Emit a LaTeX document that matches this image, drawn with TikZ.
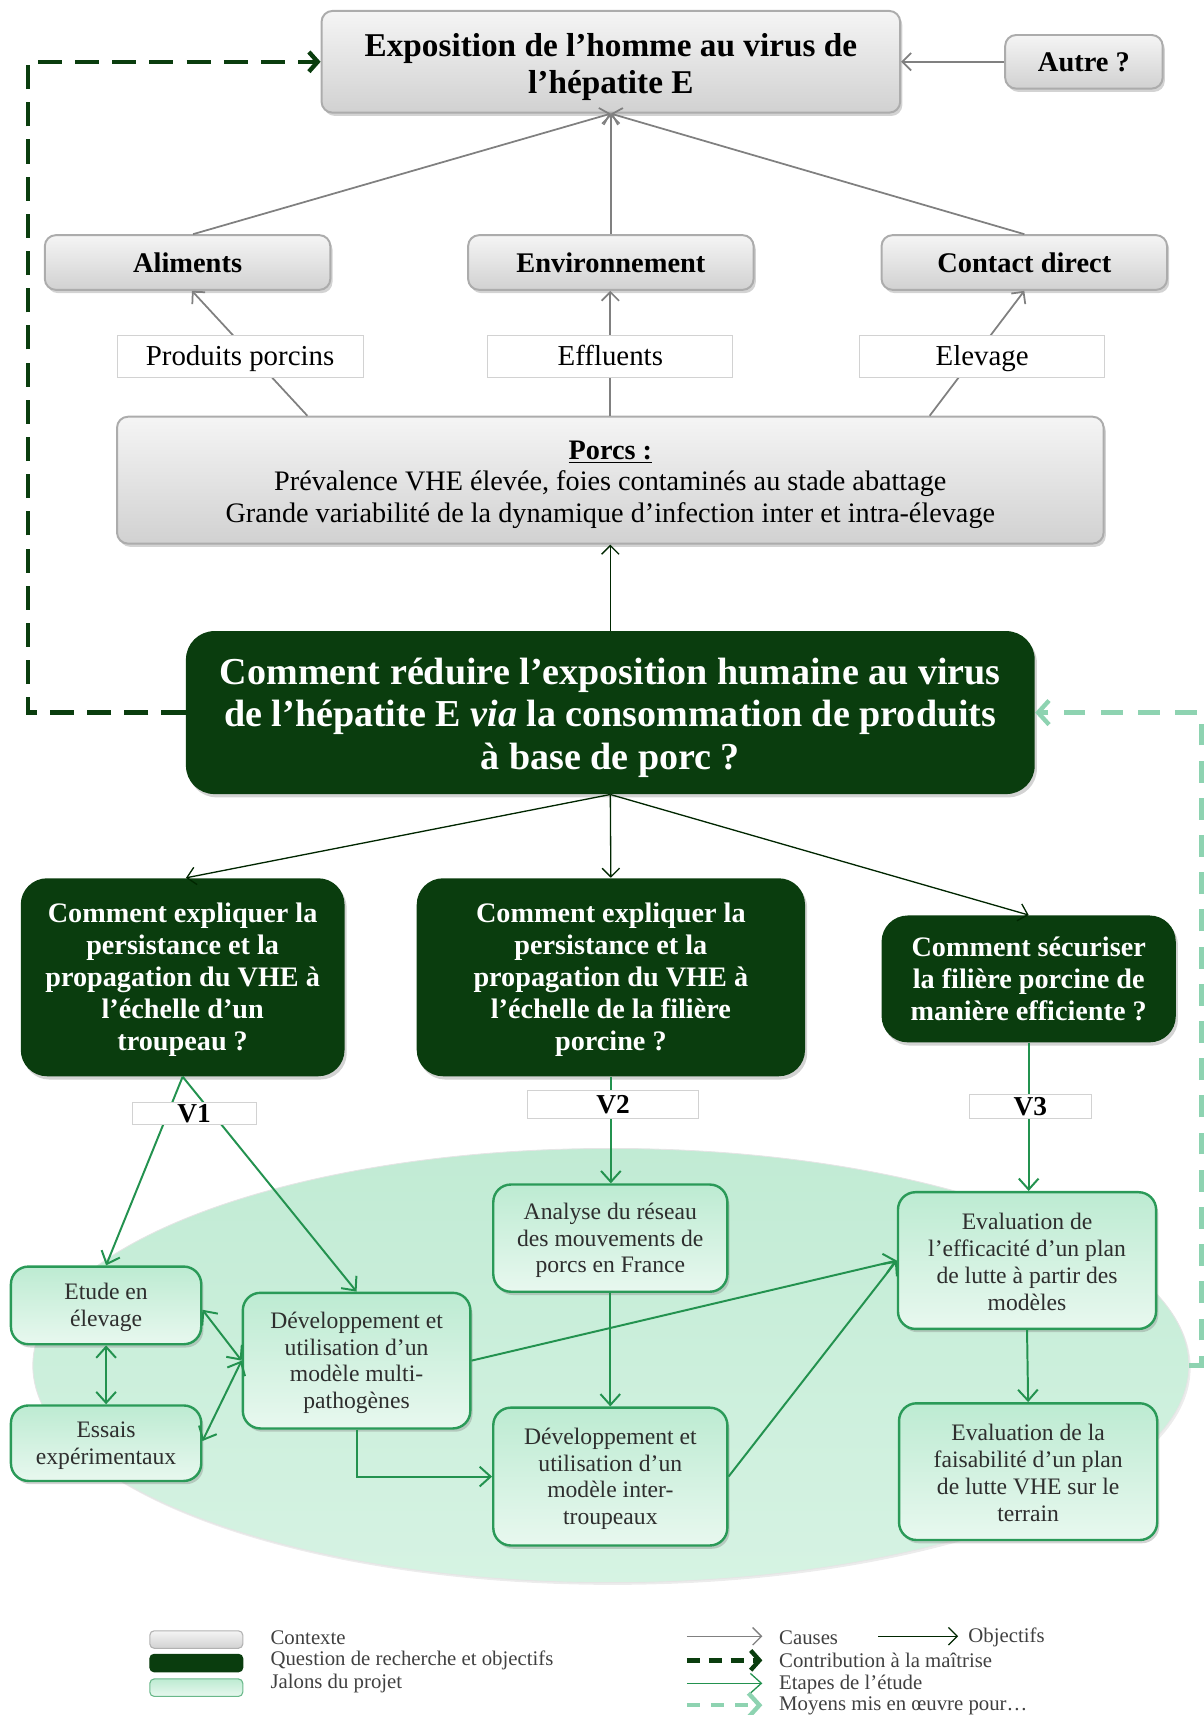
\documentclass[tikz,border=0pt]{standalone}
\usepackage{fontspec}
\setmainfont{Liberation Serif}
\usetikzlibrary{arrows.meta,shadows,shapes.geometric,calc}
\definecolor{dkgreen}{HTML}{0A3D0E}
\definecolor{lgborder}{HTML}{2A9A58}
\definecolor{lgtop}{HTML}{BDEBD2}
\definecolor{lgbot}{HTML}{E8F8EF}
\definecolor{ellcol}{HTML}{C1EBD4}
\definecolor{ellbot}{HTML}{D6F3E3}
\definecolor{lightdash}{HTML}{8ED3B1}
\definecolor{arrgreen}{HTML}{23924F}
\definecolor{grayline}{HTML}{808080}
\newcommand{\myfs}[2]{\fontsize{#1}{#2}\selectfont}
\newcommand{\lowtext}[3]{\raisebox{-#1}[\height][\depth]{\parbox{#2}{\centering #3}}}
\begin{document}
\begin{tikzpicture}[x=0.5pt,y=-0.5pt,
  shd/.style={drop shadow={shadow xshift=1pt,shadow yshift=-1.5pt,opacity=0.35}},
  ctx/.style={draw=gray!65, line width=0.9pt, rounded corners=5pt, top color=gray!8, bottom color=gray!36, shd, inner sep=0pt, align=center, text=black},
  lbl/.style={draw=gray!35, line width=0.4pt, fill=white, inner sep=0pt, align=center},
  quest/.style={fill=dkgreen, rounded corners=12pt, text=white, align=center, inner sep=0pt, shd},
  jalon/.style={draw=lgborder, line width=1.1pt, rounded corners=8pt, top color=lgtop, bottom color=lgbot, align=center, inner sep=0pt, text=black!82, shd, font=\myfs{10.8}{12.3}},
  cause/.style={draw=grayline, line width=0.8pt, -{Straight Barb[length=4pt,width=8pt]}},
  obj/.style={draw=black!85!green, line width=0.6pt, -{Straight Barb[length=4pt,width=8pt]}},
  etape/.style={draw=arrgreen, line width=0.9pt, -{Straight Barb[length=5pt,width=9pt]}},
  etapes2/.style={draw=arrgreen, line width=0.9pt, {Straight Barb[length=5pt,width=9pt]}-{Straight Barb[length=5pt,width=9pt]}},
  contrib/.style={draw=dkgreen, line width=2pt, dash pattern=on 11pt off 6pt, -{Straight Barb[length=4pt,width=9pt,line width=2pt]}},
  moyens/.style={draw=lightdash, line width=2pt, dash pattern=on 10pt off 7pt, -{Straight Barb[length=5pt,width=11pt,line width=2pt]}},
  swatch/.style={minimum width=42.5pt, minimum height=8pt, rounded corners=2pt, inner sep=0pt, draw=gray!60, line width=0.5pt},
  legtxt/.style={anchor=west, inner sep=0pt, text=black!75, font=\myfs{9.5}{10}}
]
\useasboundingbox (0,0) rectangle (1100,1568);

% ---------------- context ----------------
\node[ctx, minimum width=264.5pt, minimum height=46.5pt, font=\bfseries\myfs{15.2}{17}] (expo) at (558.5,56.5) {\lowtext{2.2pt}{250pt}{Exposition de l’homme au virus de\\l’hépatite E}};
\node[ctx, minimum width=72pt, minimum height=24.5pt, font=\bfseries\myfs{13}{15}] (autre) at (991,56.5) {Autre ?};
\node[ctx, minimum width=130.5pt, minimum height=25pt, font=\bfseries\myfs{13}{15}] (alim) at (171.5,240) {Aliments};
\node[ctx, minimum width=130.5pt, minimum height=25pt, font=\bfseries\myfs{13}{15}] (env) at (558.5,240) {Environnement};
\node[ctx, minimum width=130.5pt, minimum height=25pt, font=\bfseries\myfs{13}{15}] (cont) at (936.5,240) {Contact direct};
\node[ctx, minimum width=451pt, minimum height=58pt, font=\myfs{12.9}{14.5}] (porcs) at (558,439) {\lowtext{2pt}{440pt}{\textbf{\underline{Porcs :}}\\Prévalence VHE élevée, foies contaminés au stade abattage\\Grande variabilité de la dynamique d’infection inter et intra-élevage}};

\draw[cause] (autre.west) -- (expo.east);
\draw[cause] ([xshift=2.5pt]alim.north) -- (expo.south);
\draw[cause] (env.north) -- (expo.south);
\draw[cause] (cont.north) -- (expo.south);

\draw[cause] ($(porcs.north)+(-277,0)$) -- ($(alim.south)+(4,0)$);
\draw[cause] (porcs.north) -- (porcs.north |- env.south);
\draw[cause] ($(porcs.north)+(292,0)$) -- (cont.south);

\node[lbl, minimum width=112.5pt, minimum height=19pt, font=\myfs{13.2}{14}] (lab1) at (219.5,326) {\lowtext{1.5pt}{110pt}{\strut Produits porcins}};
\node[lbl, minimum width=112pt, minimum height=19pt, font=\myfs{13.2}{14}] (lab2) at (558,326) {\lowtext{1.5pt}{110pt}{\strut Effluents}};
\node[lbl, minimum width=112pt, minimum height=19pt, font=\myfs{13.2}{14}] (lab3) at (898,326) {\lowtext{1.5pt}{110pt}{\strut Elevage}};

% ---------------- questions ----------------
\node[quest, rounded corners=13pt, minimum width=388pt, minimum height=74.5pt, font=\bfseries\myfs{17.4}{19.5}] (main) at (558,651.5) {\lowtext{2.3pt}{380pt}{Comment réduire l’exposition humaine au virus\\de l’hépatite E \textit{via} la consommation de produits\\à base de porc ?}};
\draw[obj] (main.north) -- (porcs.south);

\node[quest, minimum width=148pt, minimum height=90.5pt, font=\bfseries\myfs{12.9}{14.6}] (q1) at (167,893.5) {\lowtext{1.2pt}{144pt}{Comment expliquer la\\persistance et la\\propagation du VHE à\\l’échelle d’un\\troupeau ?}};
\node[quest, minimum width=177.5pt, minimum height=90.5pt, font=\bfseries\myfs{12.9}{14.6}] (q2) at (558.5,893.5) {\lowtext{1.2pt}{170pt}{Comment expliquer la\\persistance et la\\propagation du VHE à\\l’échelle de la filière\\porcine ?}};
\node[quest, minimum width=134.5pt, minimum height=58pt, font=\bfseries\myfs{12.9}{14.6}] (q3) at (940.5,895) {Comment sécuriser\\la filière porcine de\\manière efficiente ?};

\draw[obj] (main.south) -- ([xshift=1.5pt]q1.north);
\draw[obj] (main.south) -- (q2.north);
\draw[obj] (main.south) -- (q3.north);

% ---------------- contribution dashed ----------------
\draw[contrib] (main.west) -- ++(-144,0) |- (expo.west);

% ---------------- ellipse & milestones ----------------
\node[ellipse, minimum width=528.5pt, minimum height=198.5pt, inner sep=0pt, top color=ellcol, bottom color=ellbot, draw=gray!20, line width=0.4pt, drop shadow={shadow xshift=0.8pt,shadow yshift=-1pt,opacity=0.15}] (ell) at (558.5,1248.5) {};

\draw[moyens] (ell.east) -- ++(11,0) |- (main.east);

\node[jalon, minimum width=87pt, minimum height=35.5pt] (etude) at (97,1193.5) {\lowtext{1pt}{82pt}{Etude en\\élevage}};
\node[jalon, minimum width=87pt, minimum height=34.5pt] (essais) at (97,1319.5) {\lowtext{1pt}{82pt}{Essais\\expérimentaux}};
\node[jalon, minimum width=104pt, minimum height=62pt] (devm) at (326,1244) {\lowtext{1pt}{100pt}{Développement et\\utilisation d’un\\modèle multi-\\pathogènes}};
\node[jalon, minimum width=107pt, minimum height=49pt] (analyse) at (558,1132) {\lowtext{1pt}{103pt}{Analyse du réseau\\des mouvements de\\porcs en France}};
\node[jalon, minimum width=107pt, minimum height=63pt] (devi) at (558,1350) {\lowtext{1pt}{103pt}{Développement et\\utilisation d’un\\modèle inter-\\troupeaux}};
\node[jalon, minimum width=118pt, minimum height=62.5pt] (evalE) at (939,1152.5) {\lowtext{0.5pt}{114pt}{Evaluation de\\l’efficacité d’un plan\\de lutte à partir des\\modèles}};
\node[jalon, minimum width=118pt, minimum height=62.5pt] (evalF) at (940,1345.5) {\lowtext{0.5pt}{114pt}{Evaluation de la\\faisabilité d’un plan\\de lutte VHE sur le\\terrain}};

\draw[etape] (q1.south) -- (etude.north);
\draw[etape] (q1.south) -- (devm.north);
\draw[etape] (q2.south) -- (q2.south |- analyse.north);
\draw[etape] (q3.south) -- (q3.south |- evalE.north);

\draw[etapes2] (etude.south) -- (essais.north);
\draw[etapes2] ([yshift=-2pt]etude.east) -- (devm.west);
\draw[etapes2] ([yshift=1pt]essais.east) -- (devm.west);
\draw[etape] (devm.south) |- (devi.west);
\draw[etape] (devm.east) -- (evalE.west);
\draw[etape] (analyse.south) -- (devi.north);
\draw[etape] (devi.east) -- (evalE.west);
\draw[etape] (evalE.south) -- (evalF.north);

\node[lbl, minimum width=56.5pt, minimum height=10pt, font=\bfseries\myfs{12.5}{13}] (v1) at (177.5,1018) {V1};
\node[lbl, minimum width=78.5pt, minimum height=13pt, font=\bfseries\myfs{12.5}{13}] (v2) at (560.5,1010) {V2};
\node[lbl, minimum width=56pt, minimum height=11pt, font=\bfseries\myfs{12.5}{13}] (v3) at (942,1012) {V3};

% ---------------- legend ----------------
\node[swatch, top color=gray!8, bottom color=gray!36] (sw1) at (179.5,1499) {};
\node[swatch, fill=dkgreen, draw=dkgreen] (sw2) at (179.5,1520.5) {};
\node[swatch, top color=lgtop, bottom color=lgbot, draw=lgborder!70] (sw3) at (179.5,1543) {};
\node[legtxt] (t1) at (247,1497) {Contexte};
\node[legtxt] (t2) at (247,1518) {Question de recherche et objectifs};
\node[legtxt] (t3) at (247,1539) {Jalons du projet};

\coordinate (la1) at (628,1496); \coordinate (lb1) at (697,1496);
\coordinate (la2) at (803,1496); \coordinate (lb2) at (876,1496);
\coordinate (la3) at (628,1518); \coordinate (lb3) at (697,1518);
\coordinate (la4) at (628,1539); \coordinate (lb4) at (697,1539);
\coordinate (la5) at (628,1559); \coordinate (lb5) at (697,1559);
\draw[cause, line width=0.6pt] (la1) -- (lb1);
\draw[obj] (la2) -- (lb2);
\draw[contrib, dash pattern=on 6pt off 4pt] (la3) -- (lb3);
\draw[etape, line width=0.6pt] (la4) -- (lb4);
\draw[moyens, dash pattern=on 6pt off 5pt] (la5) -- (lb5);
\node[legtxt] (t4) at (712,1497) {Causes};
\node[legtxt] (t5) at (885,1497) {Objectifs};
\node[legtxt] (t6) at (712,1518) {Contribution à la maîtrise};
\node[legtxt] (t7) at (712,1540) {Etapes de l’étude};
\node[legtxt] (t8) at (712,1560) {Moyens mis en œuvre pour…};
\end{tikzpicture}
\end{document}
